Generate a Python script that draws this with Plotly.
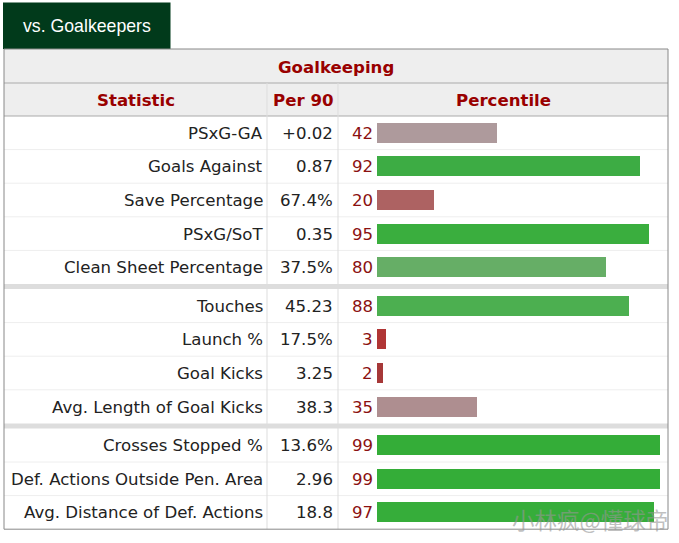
import plotly.graph_objects as go

# ---------------- data ----------------
statistics = [
    "PSxG-GA", "Goals Against", "Save Percentage", "PSxG/SoT", "Clean Sheet Percentage",
    "Touches", "Launch %", "Goal Kicks", "Avg. Length of Goal Kicks",
    "Crosses Stopped %", "Def. Actions Outside Pen. Area", "Avg. Distance of Def. Actions",
]
per90 = ["+0.02", "0.87", "67.4%", "0.35", "37.5%", "45.23", "17.5%", "3.25", "38.3",
         "13.6%", "2.96", "18.8"]
percentile = [42, 92, 20, 95, 80, 88, 3, 2, 35, 99, 99, 97]
group = [0, 0, 0, 0, 0, 1, 1, 1, 1, 2, 2, 2]
bar_colors = ["#ae9a9c", "#3dac44", "#ad6262", "#3aae3e", "#66ae66", "#4caf50",
              "#b03535", "#a63838", "#ae8e90", "#34ad38", "#34ad38", "#36ad3a"]

# ---------------- layout constants (pixels) ----------------
W, H = 679, 543
TL, TR = 4, 668            # table left/right
TOP = 49                   # table top
H1 = 83                    # header row split
H2 = 116                   # data start
ROW_H = 33.6
GAP = 5
C1, C2 = 267, 338          # column dividers


def px(x):
    return x / W


def row_top(i):
    return H2 + i * ROW_H + group[i] * GAP


row_centers = [row_top(i) + ROW_H / 2 for i in range(len(statistics))]
bottom = row_top(len(statistics) - 1) + ROW_H

fig = go.Figure()
fig.add_trace(go.Bar(
    x=percentile, y=row_centers, orientation="h", width=20,
    marker=dict(color=bar_colors, line=dict(width=0)),
    hoverinfo="skip", showlegend=False,
))

shapes = []
# tab
shapes.append(dict(type="rect", xref="paper", yref="y", x0=px(3), x1=px(170.5), y0=2.5, y1=49,
                   fillcolor="#013a1b", line=dict(width=0), layer="below"))
# header backgrounds
shapes.append(dict(type="rect", xref="paper", yref="y", x0=px(TL), x1=px(TR), y0=TOP, y1=H2,
                   fillcolor="#eeeeee", line=dict(width=0), layer="below"))
# horizontal header lines
for yy in (H1, H2):
    shapes.append(dict(type="line", xref="paper", yref="y", x0=px(TL), x1=px(TR), y0=yy, y1=yy,
                       line=dict(color="#aaaaaa", width=1), layer="below"))
# thin row lines and group separators
for i in range(1, len(statistics)):
    if group[i] != group[i - 1]:
        y0 = row_top(i - 1) + ROW_H
        shapes.append(dict(type="rect", xref="paper", yref="y", x0=px(TL), x1=px(TR),
                           y0=y0, y1=y0 + GAP, fillcolor="#dddddd", line=dict(width=0), layer="below"))
    else:
        yy = row_top(i)
        shapes.append(dict(type="line", xref="paper", yref="y", x0=px(TL), x1=px(TR), y0=yy, y1=yy,
                           line=dict(color="#eeeeee", width=1), layer="below"))
# vertical column lines
for xx in (C1, C2):
    shapes.append(dict(type="line", xref="paper", yref="y", x0=px(xx), x1=px(xx), y0=H1, y1=bottom,
                       line=dict(color="#dddddd", width=1), layer="below"))
# outer border
shapes.append(dict(type="rect", xref="paper", yref="y", x0=px(TL), x1=px(TR), y0=TOP, y1=bottom,
                   line=dict(color="#888888", width=1), fillcolor="rgba(0,0,0,0)", layer="above"))

FONT = "Verdana, DejaVu Sans, sans-serif"
HDR = "#990000"
FS = 16.6
anns = []
anns.append(dict(text="vs. Goalkeepers", xref="paper", yref="y", x=px(87.5), y=26, xanchor="center",
                 showarrow=False, font=dict(family="Liberation Sans, Arial", size=17.7, color="#ffffff")))
anns.append(dict(text="<b>Goalkeeping</b>", xref="paper", yref="y", x=px(336), y=67, xanchor="center",
                 showarrow=False, font=dict(family=FONT, size=FS, color=HDR)))
for label, xc in (("Statistic", 136), ("Per 90", 303), ("Percentile", 503)):
    anns.append(dict(text=f"<b>{label}</b>", xref="paper", yref="y", x=px(xc), y=100, xanchor="center",
                     showarrow=False, font=dict(family=FONT, size=FS, color=HDR)))
for i, yc in enumerate(row_centers):
    anns.append(dict(text=statistics[i], xref="paper", yref="y", x=px(265), y=yc + 0.5, xanchor="right",
                     showarrow=False, font=dict(family=FONT, size=FS, color="#222222")))
    anns.append(dict(text=per90[i], xref="paper", yref="y", x=px(334.5), y=yc + 0.5, xanchor="right",
                     showarrow=False, font=dict(family=FONT, size=FS, color="#222222")))
    anns.append(dict(text=str(percentile[i]), xref="paper", yref="y", x=px(374.5), y=yc + 0.5, xanchor="right",
                     showarrow=False, font=dict(family=FONT, size=FS, color="#8b1111")))
# watermark
anns.append(dict(text="小林疯@懂球帝", xref="paper", yref="y", x=px(670), y=519, xanchor="right",
                 showarrow=False, font=dict(family="Noto Sans CJK SC", size=22.5, color="rgba(150,150,150,0.6)")))

fig.update_layout(
    width=W, height=H, margin=dict(l=0, r=0, t=0, b=0),
    paper_bgcolor="white", plot_bgcolor="rgba(0,0,0,0)",
    xaxis=dict(domain=[px(377), px(663)], range=[0, 100], visible=False, fixedrange=True),
    yaxis=dict(domain=[0, 1], range=[H, 0], visible=False, fixedrange=True),
    shapes=shapes, annotations=anns, bargap=0,
)

fig.write_html("out.html", config={"displayModeBar": False},
               post_script="document.body.style.margin='0';document.body.style.overflow='hidden';")
